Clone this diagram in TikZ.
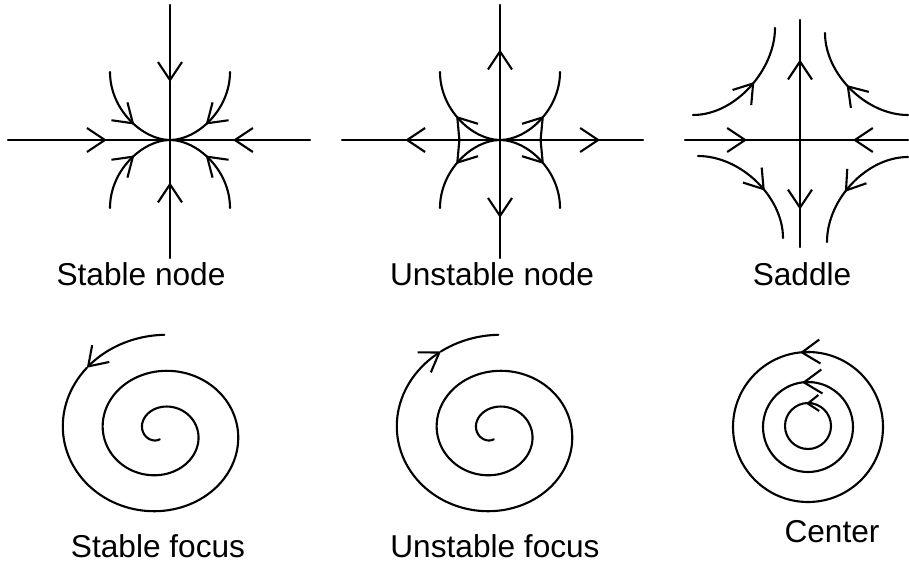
\documentclass[tikz,border=0pt]{standalone}
\usepackage{fontspec}
\setmainfont{Liberation Sans}
\usetikzlibrary{arrows.meta,decorations.markings}
\tikzset{
  orbit/.style={line width=1.2pt, line cap=round},
  flowmark/.style={postaction={decorate},
    decoration={markings, mark=at position #1 with {\arrow{>}}}},
  backmark/.style={postaction={decorate},
    decoration={markings, mark=at position #1 with {\arrowreversed{>}}}},
  portraitlabel/.style={anchor=base, font=\fontsize{18}{22}\selectfont}
}

\begin{document}
\begin{tikzpicture}[x=0.02cm, y=-0.02cm, >={Straight Barb[length=3.6mm,width=4.8mm]}]
\useasboundingbox (0,0) rectangle (909,565);
\begin{scope}[shift={(170,140)}]
\draw[orbit,flowmark=0.57] (0,-135) -- (0,0);
\draw[orbit,flowmark=0.64] (0,118) -- (0,0);
\draw[orbit,flowmark=0.61] (-162,0) -- (0,0);
\draw[orbit,flowmark=0.55] (140,0) -- (0,0);
\foreach \sx/\sy in {-1/-1,1/-1,-1/1,1/1}
  \draw[orbit,flowmark=0.6] (\sx*60,\sy*68) .. controls (\sx*60,\sy*30) and (\sx*27,0) .. (0,0);
\end{scope}
\begin{scope}[shift={(500,140)}]
\draw[orbit,flowmark=0.67] (0,0) -- (0,-135);
\draw[orbit,flowmark=0.66] (0,0) -- (0,118);
\draw[orbit,flowmark=0.60] (0,0) -- (-158,0);
\draw[orbit,flowmark=0.70] (0,0) -- (143,0);
\foreach \sx/\sy in {-1/-1,1/-1,-1/1,1/1}
  \draw[orbit,backmark=0.48] (\sx*60,\sy*68) .. controls (\sx*60,\sy*30) and (\sx*27,0) .. (0,0);
\end{scope}
\begin{scope}[shift={(800,140)}]
\draw[orbit,flowmark=0.54] (-115,0) -- (0,0);
\draw[orbit,flowmark=0.51] (108,0) -- (0,0);
\draw[orbit,flowmark=0.67] (0,0) -- (0,-120);
\draw[orbit,flowmark=0.65] (0,0) -- (0,107);
\draw[orbit,flowmark=0.55] (-107,-25) .. controls (-64,-25) and (-25,-71) .. (-25,-112);
\draw[orbit,flowmark=0.55] (108,-25) .. controls (66,-25) and (25,-66) .. (25,-107);
\draw[orbit,flowmark=0.6] (-102,16) .. controls (-59,16) and (-17,57) .. (-17,98);
\draw[orbit,flowmark=0.58] (108,17) .. controls (67,17) and (27,59) .. (27,102);
\end{scope}
\draw[orbit,->] plot[domain=88:136,samples=25] ({160.5+(117.5-\x/9)*cos(\x)},{432-0.903*(117.5-\x/9)*sin(\x)});
\draw[orbit] plot[domain=136:985,samples=300] ({160.5+(117.5-\x/9)*cos(\x)},{432-0.903*(117.5-\x/9)*sin(\x)});
\draw[orbit,<-] plot[domain=121:985,samples=300] ({494.5+(117.5-\x/9)*cos(\x)},{432-0.903*(117.5-\x/9)*sin(\x)});
\draw[orbit] plot[domain=88:121,samples=20] ({494.5+(117.5-\x/9)*cos(\x)},{432-0.903*(117.5-\x/9)*sin(\x)});
\draw[orbit] (808,427) circle[radius=75];
\draw[orbit] (808,427) circle[radius=45];
\draw[orbit] (808,426) circle[radius=23];
\draw[orbit,->] (810,352) -- (800,352.5);
\draw[orbit,->] (812,382) -- (802,382.5);
\draw[orbit,-{Straight Barb[length=2.2mm,width=3.2mm]}] (812,403.3) -- (806,403.6);
\node[portraitlabel] (stablenode) at (141,285) {Stable node};
\node[portraitlabel] (unstablenode) at (492,285) {Unstable node};
\node[portraitlabel] (saddle) at (802,285) {Saddle};
\node[portraitlabel] (stablefocus) at (158,557) {Stable focus};
\node[portraitlabel] (unstablefocus) at (495,557) {Unstable focus};
\node[portraitlabel] (center) at (832,542) {Center};
\end{tikzpicture}
\end{document}
